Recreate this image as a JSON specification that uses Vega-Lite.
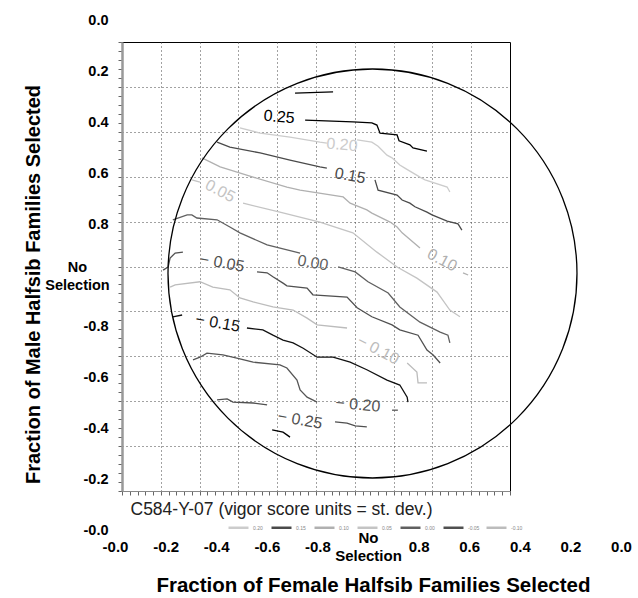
{
  "$schema": "https://vega.github.io/schema/vega-lite/v6.json",
  "width": 388,
  "height": 449,
  "autosize": "none",
  "padding": {"left": 122, "top": 42, "right": 128, "bottom": 107},
  "background": "white",
  "config": {
    "view": {"stroke": "black", "strokeWidth": 1},
    "font": "Liberation Sans",
    "axis": {"labelFont": "Liberation Sans", "titleFont": "Liberation Sans"},
    "legend": {"labelFont": "Liberation Sans"}
  },
  "datasets": {
    "contours": [
      {"l":"0.25","s":"0.25a","k":0,"x":4.46,"y":8.86},{"l":"0.25","s":"0.25a","k":1,"x":5.44,"y":8.89},
      {"l":"0.25","s":"0.25b","k":0,"x":4.72,"y":8.26},{"l":"0.25","s":"0.25b","k":1,"x":5.95,"y":8.22},{"l":"0.25","s":"0.25b","k":2,"x":6.44,"y":8.20},{"l":"0.25","s":"0.25b","k":3,"x":6.57,"y":8.15},{"l":"0.25","s":"0.25b","k":4,"x":6.65,"y":7.97},{"l":"0.25","s":"0.25b","k":5,"x":7.09,"y":7.93},{"l":"0.25","s":"0.25b","k":6,"x":7.14,"y":7.80},{"l":"0.25","s":"0.25b","k":7,"x":7.42,"y":7.71},{"l":"0.25","s":"0.25b","k":8,"x":7.50,"y":7.64},{"l":"0.25","s":"0.25b","k":9,"x":7.86,"y":7.57},
      {"l":"0.20","s":"0.20a","k":0,"x":3.04,"y":8.09},{"l":"0.20","s":"0.20a","k":1,"x":3.56,"y":7.97},{"l":"0.20","s":"0.20a","k":2,"x":4.33,"y":7.88},{"l":"0.20","s":"0.20a","k":3,"x":5.10,"y":7.77},{"l":"0.20","s":"0.20a","k":4,"x":5.28,"y":7.75},
      {"l":"0.20","s":"0.20b","k":0,"x":6.06,"y":7.82},{"l":"0.20","s":"0.20b","k":1,"x":6.44,"y":7.77},{"l":"0.20","s":"0.20b","k":2,"x":6.60,"y":7.68},{"l":"0.20","s":"0.20b","k":3,"x":6.83,"y":7.48},{"l":"0.20","s":"0.20b","k":4,"x":6.96,"y":7.42},{"l":"0.20","s":"0.20b","k":5,"x":7.16,"y":7.26},{"l":"0.20","s":"0.20b","k":6,"x":7.29,"y":7.19},{"l":"0.20","s":"0.20b","k":7,"x":7.68,"y":6.99},{"l":"0.20","s":"0.20b","k":8,"x":7.81,"y":6.93},{"l":"0.20","s":"0.20b","k":9,"x":8.38,"y":6.77},{"l":"0.20","s":"0.20b","k":10,"x":8.45,"y":6.66},
      {"l":"0.15","s":"0.15a","k":0,"x":2.45,"y":7.77},{"l":"0.15","s":"0.15a","k":1,"x":2.78,"y":7.66},{"l":"0.15","s":"0.15a","k":2,"x":3.56,"y":7.53},{"l":"0.15","s":"0.15a","k":3,"x":4.33,"y":7.37},{"l":"0.15","s":"0.15a","k":4,"x":5.10,"y":7.22},{"l":"0.15","s":"0.15a","k":5,"x":5.28,"y":7.19},
      {"l":"0.15","s":"0.15b","k":0,"x":6.52,"y":6.93},{"l":"0.15","s":"0.15b","k":1,"x":6.60,"y":6.70},{"l":"0.15","s":"0.15b","k":2,"x":7.09,"y":6.59},{"l":"0.15","s":"0.15b","k":3,"x":7.22,"y":6.48},{"l":"0.15","s":"0.15b","k":4,"x":7.42,"y":6.41},{"l":"0.15","s":"0.15b","k":5,"x":7.55,"y":6.33},{"l":"0.15","s":"0.15b","k":6,"x":7.86,"y":6.21},{"l":"0.15","s":"0.15b","k":7,"x":7.99,"y":6.15},{"l":"0.15","s":"0.15b","k":8,"x":8.38,"y":6.01},{"l":"0.15","s":"0.15b","k":9,"x":8.66,"y":5.95},{"l":"0.15","s":"0.15b","k":10,"x":8.76,"y":5.81},
      {"l":"0.10","s":"0.10a","k":0,"x":2.06,"y":7.42},{"l":"0.10","s":"0.10a","k":1,"x":2.53,"y":7.22},{"l":"0.10","s":"0.10a","k":2,"x":3.38,"y":6.99},{"l":"0.10","s":"0.10a","k":3,"x":4.25,"y":6.77},{"l":"0.10","s":"0.10a","k":4,"x":4.59,"y":6.70},{"l":"0.10","s":"0.10a","k":5,"x":5.70,"y":6.55},{"l":"0.10","s":"0.10a","k":6,"x":5.88,"y":6.41},{"l":"0.10","s":"0.10a","k":7,"x":6.31,"y":6.26},{"l":"0.10","s":"0.10a","k":8,"x":6.44,"y":6.19},{"l":"0.10","s":"0.10a","k":9,"x":6.91,"y":5.99},{"l":"0.10","s":"0.10a","k":10,"x":7.09,"y":5.88},{"l":"0.10","s":"0.10a","k":11,"x":7.22,"y":5.75},{"l":"0.10","s":"0.10a","k":12,"x":7.68,"y":5.41},
      {"l":"0.10","s":"0.10b","k":0,"x":8.79,"y":4.86},{"l":"0.10","s":"0.10b","k":1,"x":8.92,"y":4.81},
      {"l":"0.05","s":"0.05a","k":0,"x":1.80,"y":6.93},{"l":"0.05","s":"0.05a","k":1,"x":2.01,"y":6.88},
      {"l":"0.05","s":"0.05b","k":0,"x":3.12,"y":6.41},{"l":"0.05","s":"0.05b","k":1,"x":4.07,"y":6.21},{"l":"0.05","s":"0.05b","k":2,"x":5.10,"y":5.99},{"l":"0.05","s":"0.05b","k":3,"x":5.95,"y":5.75},{"l":"0.05","s":"0.05b","k":4,"x":6.57,"y":5.32},{"l":"0.05","s":"0.05b","k":5,"x":7.09,"y":4.99},{"l":"0.05","s":"0.05b","k":6,"x":7.60,"y":4.74},{"l":"0.05","s":"0.05b","k":7,"x":8.12,"y":4.43},{"l":"0.05","s":"0.05b","k":8,"x":8.45,"y":4.03},{"l":"0.05","s":"0.05b","k":9,"x":8.71,"y":3.88},
      {"l":"0.00","s":"0.00a","k":0,"x":1.31,"y":6.04},{"l":"0.00","s":"0.00a","k":1,"x":1.68,"y":6.15},{"l":"0.00","s":"0.00a","k":2,"x":1.80,"y":6.15},{"l":"0.00","s":"0.00a","k":3,"x":1.93,"y":6.08},{"l":"0.00","s":"0.00a","k":4,"x":2.45,"y":6.04},{"l":"0.00","s":"0.00a","k":5,"x":2.78,"y":5.88},{"l":"0.00","s":"0.00a","k":6,"x":3.04,"y":5.75},{"l":"0.00","s":"0.00a","k":7,"x":3.74,"y":5.48},{"l":"0.00","s":"0.00a","k":8,"x":4.59,"y":5.30},
      {"l":"0.00","s":"0.00b","k":0,"x":5.57,"y":4.99},{"l":"0.00","s":"0.00b","k":1,"x":6.01,"y":4.88},{"l":"0.00","s":"0.00b","k":2,"x":6.34,"y":4.66},{"l":"0.00","s":"0.00b","k":3,"x":6.86,"y":4.41},{"l":"0.00","s":"0.00b","k":4,"x":7.16,"y":4.10},{"l":"0.00","s":"0.00b","k":5,"x":7.68,"y":3.76},{"l":"0.00","s":"0.00b","k":6,"x":8.20,"y":3.54},{"l":"0.00","s":"0.00b","k":7,"x":8.40,"y":3.47},{"l":"0.00","s":"0.00b","k":8,"x":8.45,"y":3.30},
      {"l":"-0.05","s":"-0.05a","k":0,"x":1.06,"y":4.92},{"l":"-0.05","s":"-0.05a","k":1,"x":1.19,"y":4.99},{"l":"-0.05","s":"-0.05a","k":2,"x":1.24,"y":5.19},{"l":"-0.05","s":"-0.05a","k":3,"x":1.37,"y":5.30},{"l":"-0.05","s":"-0.05a","k":4,"x":1.57,"y":5.32},
      {"l":"-0.05","s":"-0.05b","k":0,"x":3.48,"y":4.88},{"l":"-0.05","s":"-0.05b","k":1,"x":3.74,"y":4.86},{"l":"-0.05","s":"-0.05b","k":2,"x":3.89,"y":4.77},{"l":"-0.05","s":"-0.05b","k":3,"x":4.15,"y":4.63},{"l":"-0.05","s":"-0.05b","k":4,"x":4.25,"y":4.57},{"l":"-0.05","s":"-0.05b","k":5,"x":4.77,"y":4.52},{"l":"-0.05","s":"-0.05b","k":6,"x":4.92,"y":4.37},{"l":"-0.05","s":"-0.05b","k":7,"x":5.80,"y":4.32},{"l":"-0.05","s":"-0.05b","k":8,"x":6.06,"y":4.08},{"l":"-0.05","s":"-0.05b","k":9,"x":6.44,"y":3.88},{"l":"-0.05","s":"-0.05b","k":10,"x":6.96,"y":3.70},{"l":"-0.05","s":"-0.05b","k":11,"x":7.16,"y":3.59},{"l":"-0.05","s":"-0.05b","k":12,"x":7.63,"y":3.47},{"l":"-0.05","s":"-0.05b","k":13,"x":7.86,"y":3.14},{"l":"-0.05","s":"-0.05b","k":14,"x":8.02,"y":3.03},{"l":"-0.05","s":"-0.05b","k":15,"x":8.20,"y":2.85},
      {"l":"-0.10","s":"-0.10a","k":0,"x":1.24,"y":4.54},{"l":"-0.10","s":"-0.10a","k":1,"x":1.37,"y":4.59},{"l":"-0.10","s":"-0.10a","k":2,"x":2.01,"y":4.66},{"l":"-0.10","s":"-0.10a","k":3,"x":2.34,"y":4.54},{"l":"-0.10","s":"-0.10a","k":4,"x":2.78,"y":4.48},{"l":"-0.10","s":"-0.10a","k":5,"x":3.04,"y":4.30},{"l":"-0.10","s":"-0.10a","k":6,"x":3.38,"y":4.21},{"l":"-0.10","s":"-0.10a","k":7,"x":3.89,"y":4.10},{"l":"-0.10","s":"-0.10a","k":8,"x":4.41,"y":4.03},{"l":"-0.10","s":"-0.10a","k":9,"x":4.77,"y":3.85},{"l":"-0.10","s":"-0.10a","k":10,"x":5.03,"y":3.70},{"l":"-0.10","s":"-0.10a","k":11,"x":5.80,"y":3.63},
      {"l":"-0.10","s":"-0.10b","k":0,"x":7.35,"y":2.85},{"l":"-0.10","s":"-0.10b","k":1,"x":7.60,"y":2.65},{"l":"-0.10","s":"-0.10b","k":2,"x":7.63,"y":2.41},{"l":"-0.10","s":"-0.10b","k":3,"x":7.86,"y":2.41},
      {"l":"-0.15","s":"-0.15a","k":0,"x":1.31,"y":3.88},{"l":"-0.15","s":"-0.15a","k":1,"x":1.55,"y":3.92},
      {"l":"-0.15","s":"-0.15b","k":0,"x":3.22,"y":3.63},{"l":"-0.15","s":"-0.15b","k":1,"x":3.63,"y":3.59},{"l":"-0.15","s":"-0.15b","k":2,"x":3.89,"y":3.47},{"l":"-0.15","s":"-0.15b","k":3,"x":4.15,"y":3.36},{"l":"-0.15","s":"-0.15b","k":4,"x":4.41,"y":3.30},{"l":"-0.15","s":"-0.15b","k":5,"x":4.67,"y":3.18},{"l":"-0.15","s":"-0.15b","k":6,"x":5.03,"y":2.98},{"l":"-0.15","s":"-0.15b","k":7,"x":5.44,"y":2.98},{"l":"-0.15","s":"-0.15b","k":8,"x":5.88,"y":2.87},{"l":"-0.15","s":"-0.15b","k":9,"x":6.31,"y":2.70},{"l":"-0.15","s":"-0.15b","k":10,"x":6.83,"y":2.47},{"l":"-0.15","s":"-0.15b","k":11,"x":7.16,"y":2.36},{"l":"-0.15","s":"-0.15b","k":12,"x":7.35,"y":2.09},{"l":"-0.15","s":"-0.15b","k":13,"x":7.37,"y":1.98},
      {"l":"-0.20","s":"-0.20a","k":0,"x":1.83,"y":2.92},{"l":"-0.20","s":"-0.20a","k":1,"x":2.01,"y":2.98},{"l":"-0.20","s":"-0.20a","k":2,"x":2.19,"y":3.07},{"l":"-0.20","s":"-0.20a","k":3,"x":2.60,"y":3.03},{"l":"-0.20","s":"-0.20a","k":4,"x":2.96,"y":2.96},{"l":"-0.20","s":"-0.20a","k":5,"x":3.38,"y":2.87},{"l":"-0.20","s":"-0.20a","k":6,"x":4.07,"y":2.81},{"l":"-0.20","s":"-0.20a","k":7,"x":4.25,"y":2.74},{"l":"-0.20","s":"-0.20a","k":8,"x":4.51,"y":2.47},{"l":"-0.20","s":"-0.20a","k":9,"x":4.59,"y":2.25},{"l":"-0.20","s":"-0.20a","k":10,"x":4.77,"y":2.09},{"l":"-0.20","s":"-0.20a","k":11,"x":5.03,"y":1.98},
      {"l":"-0.20","s":"-0.20b","k":0,"x":6.96,"y":1.80},{"l":"-0.20","s":"-0.20b","k":1,"x":7.11,"y":1.80},
      {"l":"-0.25","s":"-0.25a","k":0,"x":2.45,"y":2.03},{"l":"-0.25","s":"-0.25a","k":1,"x":2.71,"y":2.05},{"l":"-0.25","s":"-0.25a","k":2,"x":2.86,"y":1.98},{"l":"-0.25","s":"-0.25a","k":3,"x":3.38,"y":1.96},{"l":"-0.25","s":"-0.25a","k":4,"x":3.74,"y":1.92},
      {"l":"-0.25","s":"-0.25b","k":0,"x":5.49,"y":1.54},{"l":"-0.25","s":"-0.25b","k":1,"x":5.80,"y":1.51},{"l":"-0.25","s":"-0.25b","k":2,"x":6.01,"y":1.45},{"l":"-0.25","s":"-0.25b","k":3,"x":6.31,"y":1.43},
      {"l":"-0.30","s":"-0.30a","k":0,"x":3.87,"y":1.36},{"l":"-0.30","s":"-0.30a","k":1,"x":4.15,"y":1.31},{"l":"-0.30","s":"-0.30a","k":2,"x":4.25,"y":1.25},{"l":"-0.30","s":"-0.30a","k":3,"x":4.33,"y":1.20}
    ],
    "labels": [
      {"l":"0.25","t":"0.25","x":4.05,"y":8.33},
      {"l":"0.20","t":"0.20","x":5.67,"y":7.71},
      {"l":"0.15","t":"0.15","x":5.88,"y":7.02},
      {"l":"0.10","t":"0.10","x":8.25,"y":5.14},
      {"l":"0.05","t":"0.05","x":2.53,"y":6.68},
      {"l":"0.00","t":"0.00","x":4.92,"y":5.08},
      {"l":"-0.05","t":"− 0.05","x":2.58,"y":5.08},
      {"l":"-0.10","t":"− 0.10","x":6.60,"y":3.14},
      {"l":"-0.15","t":"− 0.15","x":2.47,"y":3.74},
      {"l":"-0.20","t":"− 0.20","x":6.08,"y":1.92},
      {"l":"-0.25","t":"− 0.25","x":4.59,"y":1.58}
    ],
    "circle": [{"x": 6.456, "y": 4.844}],
    "xticks": [
      {"label":"-0.0"},{"label":"-0.2"},{"label":"-0.4"},{"label":"-0.6"},{"label":"-0.8"},{"label":"No Selection"},{"label":"0.8"},{"label":"0.6"},{"label":"0.4"},{"label":"0.2"},{"label":"0.0"}
    ],
    "yticks": [
      {"label":"0.0"},{"label":"0.2"},{"label":"0.4"},{"label":"0.6"},{"label":"0.8"},{"label":"No Selection"},{"label":"-0.8"},{"label":"-0.6"},{"label":"-0.4"},{"label":"-0.2"},{"label":"-0.0"}
    ]
  },
  "layer": [
    {
      "layer": [
        {
          "data": {"name": "contours"},
          "mark": {"type": "line", "strokeWidth": 1.3},
          "encoding": {
            "x": {"field": "x", "type": "quantitative", "scale": {"domain": [0, 10], "nice": false, "zero": false},
              "axis": {"orient": "bottom", "tickCount": 50, "labels": false, "ticks": true, "tickSize": 4, "tickColor": "#666", "domainColor": "#888", "domainWidth": 1,
                "grid": true, "gridDash": [1, 3], "gridColor": "#444", "gridWidth": 1,
                "gridOpacity": {"condition": {"test": "datum.value > 0.5 && datum.value < 9.5 && abs(datum.value - round(datum.value)) < 0.01", "value": 1}, "value": 0},
                "title": "C584-Y-07 (vigor score units = st. dev.)", "titleFontSize": 17.5, "titleFontWeight": "normal", "titleColor": "#222",
                "titleX": 8, "titleY": 23.5, "titleAlign": "left", "titleBaseline": "alphabetic"}},
            "y": {"field": "y", "type": "quantitative", "scale": {"domain": [0, 10], "nice": false, "zero": false},
              "axis": {"orient": "left", "tickCount": 50, "labels": false, "ticks": true, "tickSize": 4, "tickColor": "#666", "domainColor": "#999", "domainWidth": 2.5,
                "grid": true, "gridDash": [1, 3], "gridColor": "#444", "gridWidth": 1,
                "gridOpacity": {"condition": {"test": "datum.value > 0.5 && datum.value < 9.5 && abs(datum.value - round(datum.value)) < 0.01", "value": 1}, "value": 0},
                "title": null}},
            "color": {"field": "l", "type": "nominal",
              "scale": {"domain": ["0.25","0.20","0.15","0.10","0.05","0.00","-0.05","-0.10","-0.15","-0.20","-0.25","-0.30"],
                        "range": ["#000000","#cccccc","#4a4a4a","#b0b0b0","#c4c4c4","#606060","#505050","#bcbcbc","#111111","#555555","#505050","#000000"]},
              "legend": {"orient": "none", "legendX": 105, "legendY": 474, "direction": "horizontal", "columns": 7, "title": null,
                "values": ["0.20","0.15","0.10","0.05","0.00","-0.05","-0.10"],
                "symbolType": "stroke", "symbolSize": 400, "symbolStrokeWidth": 2.5, "labelFontSize": 5, "labelColor": "#888", "labelOffset": 3,
                "columnPadding": 1, "gridAlign": "all", "padding": 0, "offset": 0}},
            "detail": {"field": "s"},
            "order": {"field": "k", "type": "quantitative"}
          }
        },
        {
          "data": {"name": "circle"},
          "mark": {"type": "point", "shape": "circle", "filled": false, "size": 167281, "stroke": "black", "strokeWidth": 1.3, "opacity": 1},
          "encoding": {
            "x": {"field": "x", "type": "quantitative"},
            "y": {"field": "y", "type": "quantitative"}
          }
        },
        {
          "data": {"name": "labels"},
          "transform": [{"filter": {"field": "l", "oneOf": ["0.25", "0.20", "-0.20"]}}],
          "mark": {"type": "text", "fontSize": 16, "angle": 5, "align": "center", "baseline": "middle"},
          "encoding": {
            "x": {"field": "x", "type": "quantitative"},
            "y": {"field": "y", "type": "quantitative"},
            "text": {"field": "t"},
            "color": {"field": "l", "type": "nominal"}
          }
        },
        {
          "data": {"name": "labels"},
          "transform": [{"filter": {"field": "l", "oneOf": ["0.15", "0.00", "-0.05", "-0.15", "-0.25"]}}],
          "mark": {"type": "text", "fontSize": 16, "angle": 10, "align": "center", "baseline": "middle"},
          "encoding": {
            "x": {"field": "x", "type": "quantitative"},
            "y": {"field": "y", "type": "quantitative"},
            "text": {"field": "t"},
            "color": {"field": "l", "type": "nominal"}
          }
        },
        {
          "data": {"name": "labels"},
          "transform": [{"filter": {"field": "l", "oneOf": ["0.10", "0.05", "-0.10"]}}],
          "mark": {"type": "text", "fontSize": 16, "angle": 28, "align": "center", "baseline": "middle"},
          "encoding": {
            "x": {"field": "x", "type": "quantitative"},
            "y": {"field": "y", "type": "quantitative"},
            "text": {"field": "t"},
            "color": {"field": "l", "type": "nominal"}
          }
        }
      ]
    },
    {
      "data": {"name": "xticks"},
      "mark": {"type": "point", "opacity": 0},
      "encoding": {
        "x": {"field": "label", "type": "nominal", "sort": null, "scale": {"type": "point", "range": [-7, 499], "padding": 0},
          "axis": {"orient": "bottom", "domain": false, "ticks": false, "tickSize": 0, "grid": false, "labelAngle": 0,
            "values": ["-0.0","-0.2","-0.4","-0.6","-0.8","0.8","0.6","0.4","0.2","0.0"],
            "labelFontSize": 15, "labelFontWeight": "bold", "labelColor": "black", "labelPadding": 55, "labelBaseline": "middle",
            "labelOverlap": false, "labelBound": false, "labelFlush": false,
            "title": "Fraction of  Female Halfsib Families Selected", "titleFontSize": 20.5, "titleFontWeight": "bold", "titleColor": "black",
            "titleX": 251, "titleY": 100, "titleAlign": "center", "titleBaseline": "alphabetic"}}
      }
    },
    {
      "data": {"name": "xticks"},
      "mark": {"type": "point", "opacity": 0},
      "encoding": {
        "x": {"field": "label", "type": "nominal", "sort": null, "scale": {"type": "point", "range": [-7, 499], "padding": 0},
          "axis": {"orient": "bottom", "domain": false, "ticks": false, "tickSize": 0, "grid": false, "labelAngle": 0,
            "values": ["No Selection"],
            "labelExpr": "['No', 'Selection']",
            "labelFontSize": 15, "labelFontWeight": "bold", "labelColor": "black", "labelPadding": 46, "labelBaseline": "middle", "labelLineHeight": 18,
            "labelOverlap": false, "labelBound": false, "labelFlush": false,
            "title": null}}
      }
    },
    {
      "data": {"name": "yticks"},
      "mark": {"type": "point", "opacity": 0},
      "encoding": {
        "y": {"field": "label", "type": "nominal", "sort": null, "scale": {"type": "point", "range": [-22, 488], "padding": 0},
          "axis": {"orient": "left", "domain": false, "ticks": false, "tickSize": 0, "grid": false,
            "values": ["0.0","0.2","0.4","0.6","0.8","-0.8","-0.6","-0.4","-0.2","-0.0"],
            "labelFontSize": 14.5, "labelFontWeight": "bold", "labelColor": "black", "labelPadding": 14, "labelAlign": "right", "labelBaseline": "middle",
            "labelOverlap": false, "labelBound": false, "labelFlush": false,
            "title": "Fraction of Male Halfsib Families Selected", "titleFontSize": 20, "titleFontWeight": "bold", "titleColor": "black",
            "titleAngle": 270, "titleX": -83, "titleY": 242, "titleAlign": "center", "titleBaseline": "alphabetic"}}
      }
    },
    {
      "data": {"name": "yticks"},
      "mark": {"type": "point", "opacity": 0},
      "encoding": {
        "y": {"field": "label", "type": "nominal", "sort": null, "scale": {"type": "point", "range": [-22, 488], "padding": 0},
          "axis": {"orient": "left", "domain": false, "ticks": false, "tickSize": 0, "grid": false,
            "values": ["No Selection"],
            "labelExpr": "['No', 'Selection']",
            "labelFontSize": 14.5, "labelFontWeight": "bold", "labelColor": "black", "labelPadding": 45, "labelAlign": "center", "labelBaseline": "middle", "labelLineHeight": 18,
            "labelOffset": -8,
            "labelOverlap": false, "labelBound": false, "labelFlush": false,
            "title": null}}
      }
    }
  ],
  "resolve": {"scale": {"x": "independent", "y": "independent"}, "axis": {"x": "independent", "y": "independent"}}
}
